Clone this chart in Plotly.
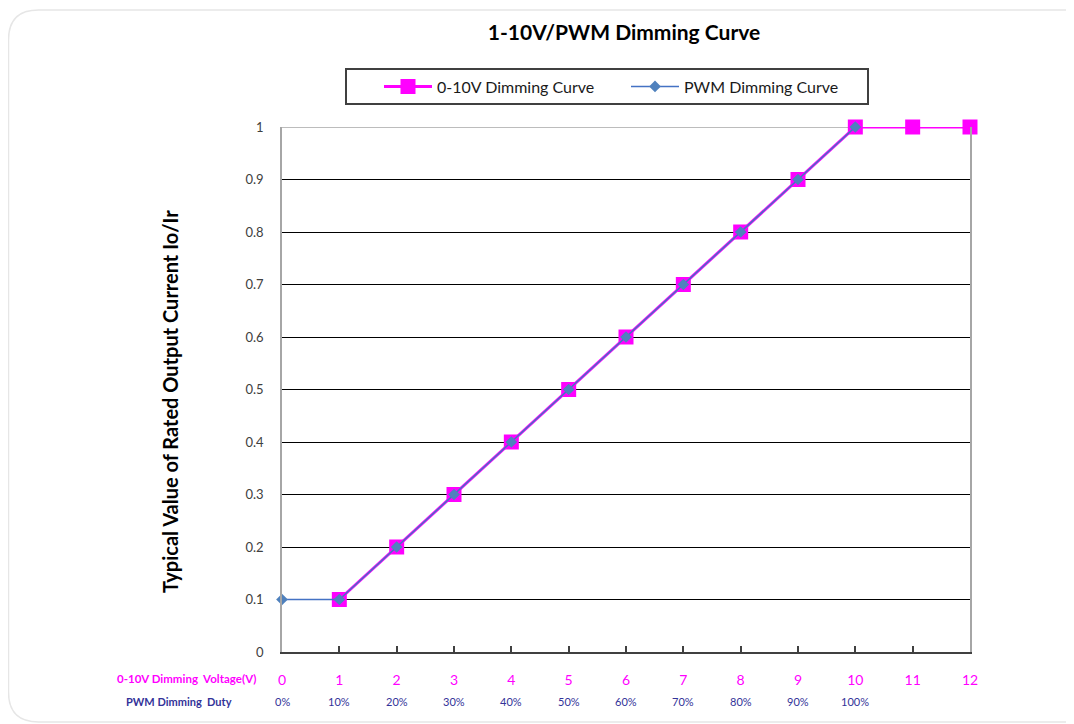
import plotly.graph_objects as go

# ---- data ----
volt_x = [1, 2, 3, 4, 5, 6, 7, 8, 9, 10, 11, 12]
volt_y = [0.1, 0.2, 0.3, 0.4, 0.5, 0.6, 0.7, 0.8, 0.9, 1.0, 1.0, 1.0]
pwm_x = [0, 1, 2, 3, 4, 5, 6, 7, 8, 9, 10]
pwm_y = [0.1, 0.1, 0.2, 0.3, 0.4, 0.5, 0.6, 0.7, 0.8, 0.9, 1.0]
x_ticks = list(range(0, 13))
duty_labels = ["0%", "10%", "20%", "30%", "40%", "50%", "60%", "70%", "80%", "90%", "100%"]
y_ticks = [0, 0.1, 0.2, 0.3, 0.4, 0.5, 0.6, 0.7, 0.8, 0.9, 1]
y_tick_text = ["0", "0.1", "0.2", "0.3", "0.4", "0.5", "0.6", "0.7", "0.8", "0.9", "1"]

W, H = 1074, 724
OFF = 8  # page margin of the html body
L, R, T, B = 282 - OFF, 970 - OFF, 127 - OFF, 652 - OFF
PW, PH = R - L, B - T
FONT = "Lato"
MAG = "#ff00ff"
NAVY = "#333399"


def px(x):
    """reference page pixel x -> paper x"""
    return (x - OFF - L) / PW


def py(y):
    """reference page pixel y -> paper y"""
    return (B - (y - OFF)) / PH


fig = go.Figure()
fig.add_trace(go.Scatter(
    x=volt_x, y=volt_y, name="0-10V Dimming Curve", mode="lines+markers",
    line=dict(color=MAG, width=3),
    marker=dict(symbol="square", size=15, color=MAG),
    cliponaxis=False,
))
fig.add_trace(go.Scatter(
    x=pwm_x, y=pwm_y, name="PWM Dimming Curve", mode="lines+markers",
    line=dict(color="#4472C4", width=1.5),
    marker=dict(symbol="diamond", size=9, color="#4F81BD"),
    cliponaxis=False,
))

# rounded outer frame
r = 30
x0, y0, x1, y1 = 8.5, 10, 1100, 722
path = (f"M {px(x0 + r)},{py(y0)} L {px(x1 - r)},{py(y0)} Q {px(x1)},{py(y0)} {px(x1)},{py(y0 + r)} "
        f"L {px(x1)},{py(y1 - r)} Q {px(x1)},{py(y1)} {px(x1 - r)},{py(y1)} "
        f"L {px(x0 + r)},{py(y1)} Q {px(x0)},{py(y1)} {px(x0)},{py(y1 - r)} "
        f"L {px(x0)},{py(y0 + r)} Q {px(x0)},{py(y0)} {px(x0 + r)},{py(y0)} Z")
shapes = [
    dict(type="path", xref="paper", yref="paper", path=path,
         line=dict(color="#e6e6e6", width=1.5), layer="below"),
    # legend box
    dict(type="rect", xref="paper", yref="paper",
         x0=px(346), x1=px(868), y0=py(104), y1=py(69),
         line=dict(color="#404040", width=2)),
    # grey top line at y=1
    dict(type="line", xref="paper", yref="y", x0=0, x1=1, y0=1, y1=1,
         line=dict(color="#a6a6a6", width=1.5), layer="between"),
]

annotations = [
    dict(text="<b>Typical Value of Rated Output Current Io/Ir</b>", xref="paper", yref="paper",
         x=px(170), y=py(402), textangle=-90, showarrow=False,
         xanchor="center", yanchor="middle",
         font=dict(family=FONT, size=20, color="#000000")),
    dict(text="<b>0-10V Dimming&nbsp;&nbsp;Voltage(V)</b>", xref="x", yref="paper", x=0, y=0,
         xanchor="right", yanchor="middle", xshift=-24, yshift=-26, showarrow=False,
         font=dict(family=FONT, size=11.5, color=MAG)),
    dict(text="<b>PWM Dimming&nbsp;&nbsp;Duty</b>", xref="x", yref="paper", x=0, y=0,
         xanchor="right", yanchor="middle", xshift=-48, yshift=-49, showarrow=False,
         font=dict(family=FONT, size=11, color=NAVY)),
]
for xv, lab in zip(pwm_x, duty_labels):
    annotations.append(dict(text=lab, xref="x", yref="paper", x=xv, y=0,
                            xanchor="center", yanchor="middle", yshift=-49, showarrow=False,
                            font=dict(family=FONT, size=11, color=NAVY)))

fig.update_layout(
    width=W, height=H,
    margin=dict(l=L, r=W - R, t=T, b=H - B),
    paper_bgcolor="white", plot_bgcolor="white",
    font=dict(family=FONT),
    title=dict(text="<b>1-10V/PWM Dimming Curve</b>", x=px(624), xref="paper", xanchor="center",
               y=1 - (33 - OFF) / H, yref="container", yanchor="middle",
               font=dict(family=FONT, size=21, color="#000000")),
    showlegend=True,
    legend=dict(orientation="h", x=px(379), xanchor="left", y=py(86.5), yanchor="middle",
                entrywidth=184, entrywidthmode="pixels", itemwidth=48,
                font=dict(family=FONT, size=16, color="#1a1a1a"),
                bgcolor="rgba(0,0,0,0)", borderwidth=0),
    shapes=shapes, annotations=annotations,
)
fig.update_xaxes(range=[0, 12], tickmode="array", tickvals=x_ticks,
                 ticktext=[str(v) for v in x_ticks],
                 showgrid=False, zeroline=False,
                 showline=True, linecolor="#404040", linewidth=2, mirror=False,
                 ticks="inside", ticklen=6, tickcolor="#404040", tickwidth=1.5,
                 tickfont=dict(family=FONT, size=14, color=MAG), ticklabelstandoff=14)
fig.update_yaxes(range=[0, 1], tickmode="array", tickvals=y_ticks, ticktext=y_tick_text,
                 showgrid=True, gridcolor="#000000", gridwidth=1.2, zeroline=False,
                 showline=True, linecolor="#a6a6a6", linewidth=1.5, mirror=True,
                 ticks="", tickfont=dict(family=FONT, size=13, color="#404040"),
                 ticklabelstandoff=14)

fig.write_html("out.html")
